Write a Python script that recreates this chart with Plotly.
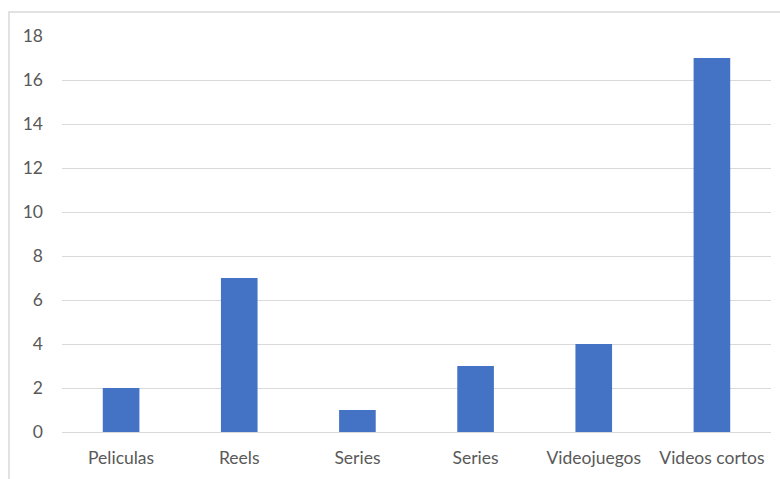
import plotly.graph_objects as go

categories = ["Peliculas", "Reels", "Series", "Series", "Videojuegos", "Videos cortos"]
values = [2, 7, 1, 3, 4, 17]
positions = list(range(len(categories)))
y_ticks = [0, 2, 4, 6, 8, 10, 12, 14, 16, 18]

W, H = 780, 479
ml, mr, mt, mb = 62, 9, 36, 47
pw, ph = W - ml - mr, H - mt - mb

fig = go.Figure(go.Bar(x=positions, y=values, marker=dict(color="#4472C4", line=dict(width=0)), width=0.31))

font = dict(family="Lato, Open Sans, sans-serif", size=17.5, color="#595959")
fig.update_layout(
    width=W, height=H,
    margin=dict(l=ml, r=mr, t=mt, b=mb),
    paper_bgcolor="white", plot_bgcolor="white",
    showlegend=False,
    font=font,
    xaxis=dict(range=[-0.5, len(categories) - 0.5], tickvals=positions, ticktext=categories,
               showgrid=False, zeroline=False, showline=False, ticks="",
               ticklabelstandoff=13, tickfont=font),
    yaxis=dict(range=[0, 18], tickvals=y_ticks, showgrid=True, gridcolor="#d9d9d9", gridwidth=1.3,
               zeroline=True, zerolinecolor="#d9d9d9", zerolinewidth=1.3, showline=False, ticks="",
               ticklabelstandoff=18, tickfont=font),
    shapes=[dict(type="rect", xref="paper", yref="paper",
                 x0=(9 - ml) / pw, x1=1 + (mr + 20) / pw,
                 y0=-(mb + 20) / ph, y1=1 + (mt - 12) / ph,
                 line=dict(color="#d9d9d9", width=1.5), fillcolor="rgba(0,0,0,0)", layer="below")],
)
fig.write_html("out.html")
